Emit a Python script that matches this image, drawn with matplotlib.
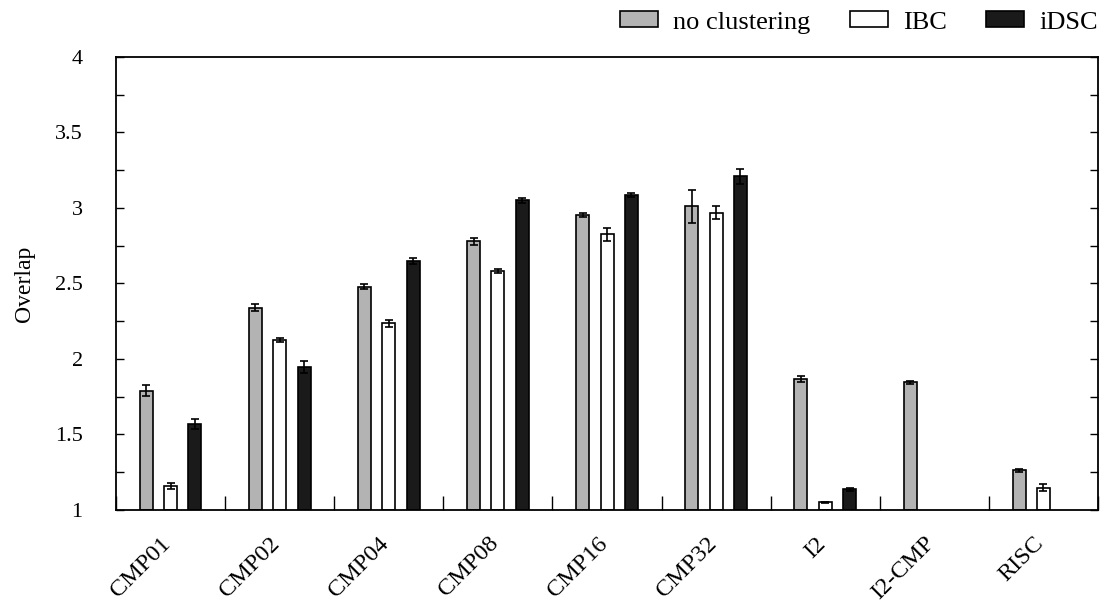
import numpy as np
import matplotlib
matplotlib.use("Agg")
import matplotlib.pyplot as plt
from matplotlib.ticker import MultipleLocator, FuncFormatter
from matplotlib.transforms import ScaledTranslation

plt.rcParams["font.family"] = ["Liberation Serif", "DejaVu Serif"]

# Benchmarks and measured overlap (mean and error) for each clustering mode
benchmarks = ["CMP01", "CMP02", "CMP04", "CMP08", "CMP16", "CMP32", "I2", "I2-CMP", "RISC"]
series_names = ["no clustering", "IBC", "iDSC"]

no_clustering = [1.79, 2.34, 2.48, 2.78, 2.955, 3.01, 1.865, 1.845, 1.262]
no_clustering_err = [0.035, 0.022, 0.015, 0.022, 0.015, 0.11, 0.02, 0.012, 0.01]

ibc = [1.16, 2.125, 2.235, 2.585, 2.825, 2.97, 1.05, np.nan, 1.148]
ibc_err = [0.018, 0.015, 0.022, 0.013, 0.042, 0.04, 0.006, np.nan, 0.025]

idsc = [1.568, 1.945, 2.648, 3.05, 3.088, 3.21, 1.137, np.nan, np.nan]
idsc_err = [0.032, 0.04, 0.018, 0.018, 0.013, 0.05, 0.008, np.nan, np.nan]

fills = ["#b3b3b3", "#ffffff", "#1a1a1a"]

fig = plt.figure(figsize=(11.07, 6.14), dpi=100)
ax = fig.add_axes([0.1048, 0.1694, 0.9919 - 0.1048, 0.9072 - 0.1694])

x = np.arange(len(benchmarks))
offsets = [-0.223, 0.0, 0.223]
bar_w = 0.119
values = [no_clustering, ibc, idsc]
errors = [no_clustering_err, ibc_err, idsc_err]

for name, vals, errs, off, col in zip(series_names, values, errors, offsets, fills):
    vals = np.asarray(vals, dtype=float)
    errs = np.asarray(errs, dtype=float)
    ax.bar(x + off, vals - 1.0, bottom=1.0, width=bar_w, color=col,
           edgecolor="black", linewidth=1.2, label=name, zorder=2)
    ok = ~np.isnan(vals)
    ax.errorbar(x[ok] + off, vals[ok], yerr=errs[ok], fmt="none",
                ecolor="black", elinewidth=1.2, capsize=2.8, capthick=1.2,
                zorder=3)

ax.set_xlim(-0.5, len(benchmarks) - 0.5)
ax.set_ylim(1, 4)

# y axis: ticks on both sides, pointing inward
ax.yaxis.set_major_locator(MultipleLocator(0.5))
ax.yaxis.set_minor_locator(MultipleLocator(0.25))
ax.yaxis.set_major_formatter(FuncFormatter(lambda v, p: f"{v:g}"))
ax.tick_params(axis="y", which="both", direction="in", length=6, width=1.0,
               left=True, right=True, labelsize=16, pad=24)
ax.set_ylabel("Overlap", fontsize=17, labelpad=14)

# x axis: separators between benchmark groups, rotated labels at centers
ax.set_xticks(x)
ax.set_xticks(np.arange(len(benchmarks) + 1) - 0.5, minor=True)
ax.tick_params(axis="x", which="major", length=0, labelsize=17.5)
ax.tick_params(axis="x", which="minor", direction="in", length=10, width=1.0,
               top=False)
ax.set_xticklabels(benchmarks, rotation=45, ha="right", va="top",
                   rotation_mode="anchor")
shift = ScaledTranslation(-7.5 / 72, -13 / 72, fig.dpi_scale_trans)
for lbl in ax.get_xticklabels():
    lbl.set_transform(lbl.get_transform() + shift)

for sp in ax.spines.values():
    sp.set_linewidth(1.3)

ax.legend(loc="center right", bbox_to_anchor=(1.0, 1.076),
          bbox_transform=ax.transAxes, ncol=3, frameon=False, fontsize=19,
          handlelength=1.44, handleheight=0.53, handletextpad=0.57,
          columnspacing=1.5, borderpad=0, borderaxespad=0)

fig.savefig("out.png", dpi=100)
